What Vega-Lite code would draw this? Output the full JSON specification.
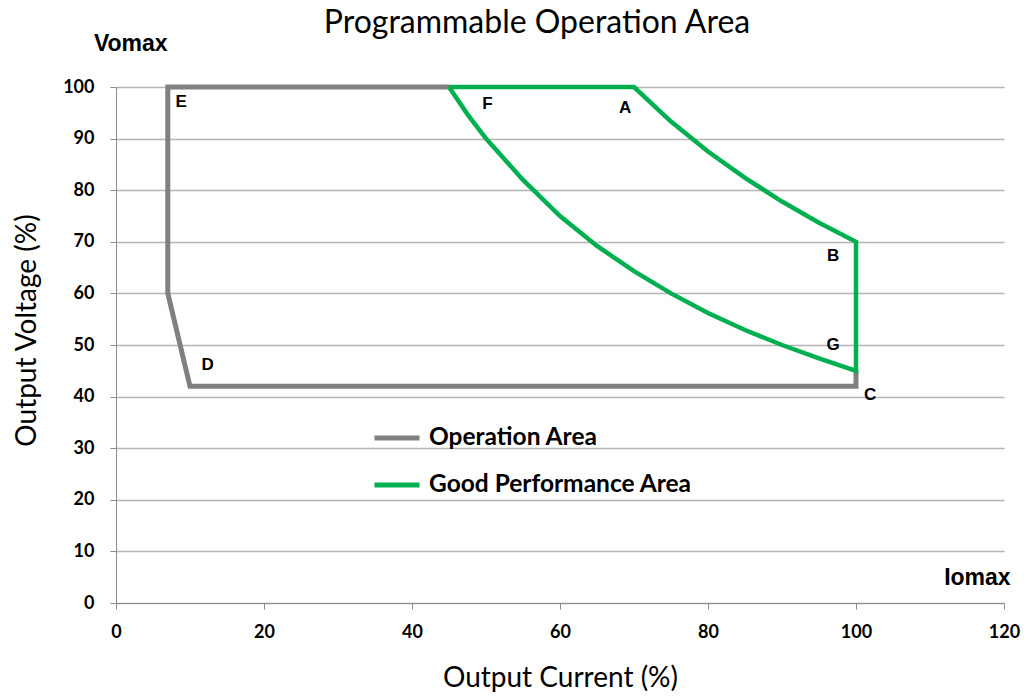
{
  "$schema": "https://vega.github.io/schema/vega-lite/v6.json",
  "width": 888,
  "height": 516,
  "autosize": {"type": "none"},
  "padding": {"left": 116, "top": 87, "right": 24, "bottom": 93},
  "background": "white",
  "title": {
    "text": "Programmable Operation Area",
    "font": "Lato",
    "fontSize": 32,
    "fontWeight": "normal",
    "color": "#000000",
    "anchor": "middle",
    "dx": -23,
    "offset": -7
  },
  "config": {
    "view": {"stroke": null},
    "axis": {
      "domainColor": "#8c8c8c",
      "tickColor": "#8c8c8c",
      "tickSize": 6,
      "labelFont": "Lato",
      "labelFontWeight": "bold",
      "labelFontSize": 18,
      "labelColor": "#000000",
      "labelFlush": false,
      "titleFont": "Lato",
      "titleFontWeight": "normal",
      "titleFontSize": 28,
      "titleColor": "#000000"
    }
  },
  "datasets": {
    "lines": [
      {"series": "Operation Area", "order": 1, "x": 100, "y": 45},
      {"series": "Operation Area", "order": 2, "x": 100, "y": 42},
      {"series": "Operation Area", "order": 3, "x": 10, "y": 42},
      {"series": "Operation Area", "order": 4, "x": 7, "y": 60},
      {"series": "Operation Area", "order": 5, "x": 7, "y": 100},
      {"series": "Operation Area", "order": 6, "x": 45, "y": 100},
      {"series": "Good Performance Area", "order": 1, "x": 45, "y": 100},
      {"series": "Good Performance Area", "order": 2, "x": 47.5, "y": 94.7},
      {"series": "Good Performance Area", "order": 3, "x": 50, "y": 90},
      {"series": "Good Performance Area", "order": 4, "x": 55, "y": 82},
      {"series": "Good Performance Area", "order": 5, "x": 60, "y": 75},
      {"series": "Good Performance Area", "order": 6, "x": 65, "y": 69.2},
      {"series": "Good Performance Area", "order": 7, "x": 70, "y": 64.3},
      {"series": "Good Performance Area", "order": 8, "x": 75, "y": 60},
      {"series": "Good Performance Area", "order": 9, "x": 80, "y": 56.2},
      {"series": "Good Performance Area", "order": 10, "x": 85, "y": 52.9},
      {"series": "Good Performance Area", "order": 11, "x": 90, "y": 50},
      {"series": "Good Performance Area", "order": 12, "x": 95, "y": 47.4},
      {"series": "Good Performance Area", "order": 13, "x": 100, "y": 45},
      {"series": "Good Performance Area", "order": 14, "x": 100, "y": 70},
      {"series": "Good Performance Area", "order": 15, "x": 95, "y": 73.7},
      {"series": "Good Performance Area", "order": 16, "x": 90, "y": 77.8},
      {"series": "Good Performance Area", "order": 17, "x": 85, "y": 82.4},
      {"series": "Good Performance Area", "order": 18, "x": 80, "y": 87.5},
      {"series": "Good Performance Area", "order": 19, "x": 75, "y": 93.3},
      {"series": "Good Performance Area", "order": 20, "x": 70, "y": 100},
      {"series": "Good Performance Area", "order": 21, "x": 45, "y": 100}
    ],
    "points": [
      {"label": "E", "x": 8.8, "y": 97.1},
      {"label": "F", "x": 50.2, "y": 96.7},
      {"label": "A", "x": 68.8, "y": 95.9},
      {"label": "B", "x": 96.9, "y": 67.2},
      {"label": "G", "x": 96.9, "y": 50},
      {"label": "C", "x": 101.9, "y": 40.3},
      {"label": "D", "x": 12.4, "y": 46.1}
    ],
    "notes": [
      {"label": "Vomax", "x": 2.0, "y": 108.3},
      {"label": "Iomax", "x": 116.4, "y": 4.8}
    ]
  },
  "layer": [
    {
      "data": {"name": "lines"},
      "transform": [{"filter": "datum.series === 'Operation Area'"}],
      "mark": {"type": "line", "strokeWidth": 5, "clip": false},
      "encoding": {
        "x": {
          "field": "x", "type": "quantitative",
          "scale": {"domain": [0, 120], "nice": false},
          "axis": {"values": [0, 20, 40, 60, 80, 100, 120], "grid": false, "labelPadding": 14, "title": "Output Current (%)", "titlePadding": 23}
        },
        "y": {
          "field": "y", "type": "quantitative",
          "scale": {"domain": [0, 100], "nice": false},
          "axis": {"values": [0, 10, 20, 30, 40, 50, 60, 70, 80, 90, 100], "grid": true, "gridColor": "#b5b5b5", "gridWidth": 1.5, "labelPadding": 16, "title": "Output Voltage (%)", "titlePadding": 21, "titleY": 243}
        },
        "order": {"field": "order", "type": "quantitative"},
        "color": {
          "field": "series", "type": "nominal",
          "scale": {"domain": ["Operation Area", "Good Performance Area"], "range": ["#808080", "#00b050"]},
          "legend": {
            "title": null,
            "orient": "none",
            "legendX": 256,
            "legendY": 326,
            "symbolType": "stroke",
            "symbolSize": 2025,
            "symbolStrokeWidth": 5,
            "labelFont": "Lato",
            "labelFontSize": 24.5,
            "labelFontWeight": "bold",
            "labelColor": "#000000",
            "labelOffset": 7,
            "labelLimit": 400,
            "rowPadding": 10
          }
        }
      }
    },
    {
      "data": {"name": "lines"},
      "transform": [{"filter": "datum.series === 'Good Performance Area'"}],
      "mark": {"type": "line", "strokeWidth": 4.5, "clip": false},
      "encoding": {
        "x": {"field": "x", "type": "quantitative"},
        "y": {"field": "y", "type": "quantitative"},
        "order": {"field": "order", "type": "quantitative"},
        "color": {"field": "series", "type": "nominal"}
      }
    },
    {
      "data": {"name": "points"},
      "mark": {"type": "text", "font": "Liberation Sans", "fontWeight": "bold", "fontSize": 17, "color": "#000000"},
      "encoding": {
        "x": {"field": "x", "type": "quantitative"},
        "y": {"field": "y", "type": "quantitative"},
        "text": {"field": "label"}
      }
    },
    {
      "data": {"name": "notes"},
      "mark": {"type": "text", "font": "Liberation Sans", "fontWeight": "bold", "fontSize": 23, "color": "#000000"},
      "encoding": {
        "x": {"field": "x", "type": "quantitative"},
        "y": {"field": "y", "type": "quantitative"},
        "text": {"field": "label"}
      }
    }
  ]
}
